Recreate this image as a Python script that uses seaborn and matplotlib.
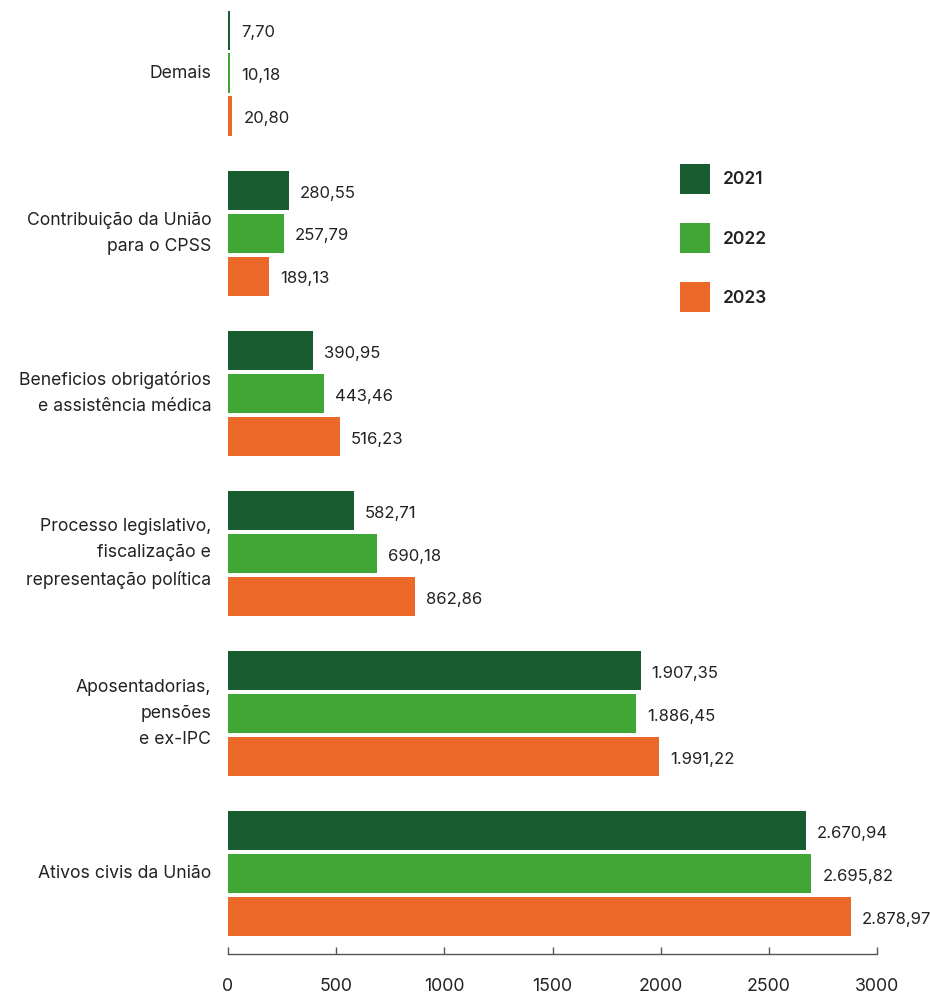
import matplotlib
matplotlib.use("Agg")
import matplotlib.pyplot as plt
import seaborn as sns
import pandas as pd

categories = [
    "Demais",
    "Contribuição da União\npara o CPSS",
    "Beneficios obrigatórios\ne assistência médica",
    "Processo legislativo,\nfiscalização e\nrepresentação política",
    "Aposentadorias,\npensões\ne ex-IPC",
    "Ativos civis da União",
]
years = ["2021", "2022", "2023"]
values_2021 = [7.70, 280.55, 390.95, 582.71, 1907.35, 2670.94]
values_2022 = [10.18, 257.79, 443.46, 690.18, 1886.45, 2695.82]
values_2023 = [20.80, 189.13, 516.23, 862.86, 1991.22, 2878.97]
colors = ["#185c2f", "#40a737", "#ec6829"]
xticks = [0, 500, 1000, 1500, 2000, 2500, 3000]

rows = []
for yr, vals in zip(years, [values_2021, values_2022, values_2023]):
    for c, v in zip(categories, vals):
        rows.append({"cat": c, "year": yr, "value": v})
df = pd.DataFrame(rows)

sns.set_theme(style="white")
plt.rcParams["font.family"] = ["Inter", "DejaVu Sans"]
text_color = "#222222"

fig = plt.figure(figsize=(9.30, 9.94), dpi=100)
ax = fig.add_axes([228 / 930, 40 / 994, 649 / 930, 954 / 994])

sns.barplot(data=df, y="cat", x="value", hue="year", order=categories,
            hue_order=years, palette=colors, orient="h", width=0.805,
            gap=0.09, ax=ax, saturation=1, errorbar=None, linewidth=0)

def fmt(v):
    s = f"{v:,.2f}"
    return s.replace(",", "X").replace(".", ",").replace("X", ".")

for cont in ax.containers:
    txts = ax.bar_label(cont, labels=[fmt(b.get_width()) for b in cont],
                        padding=8, fontsize=12, color=text_color)
    for t in txts:
        t.xyann = (8, -2)

ax.set_xlim(0, 3000)
ax.set_ylim(5.5, -0.456)
ax.set_xticks(xticks)
ax.set_xticklabels([str(t) for t in xticks])
ax.set_xlabel("")
ax.set_ylabel("")
for s in ["left", "top", "right"]:
    ax.spines[s].set_visible(False)
ax.spines["bottom"].set_color("#555555")
ax.spines["bottom"].set_linewidth(1)
ax.tick_params(axis="x", bottom=True, direction="in", length=5, width=1,
               color="#555555", pad=17.5, labelsize=12.8, labelcolor=text_color)
ax.tick_params(axis="y", left=False, length=0, pad=12, labelsize=12.7,
               labelcolor=text_color)
for lbl in ax.get_yticklabels():
    lbl.set_multialignment("right")
    lbl.set_linespacing(1.7)
    lbl.set_verticalalignment("center")

handles, labels = ax.get_legend_handles_labels()
leg = ax.legend(handles, labels, loc="upper left",
                bbox_to_anchor=(680 / 930, 1 - 164 / 994),
                bbox_transform=fig.transFigure, frameon=False,
                borderpad=0, borderaxespad=0, handlelength=1.72,
                handleheight=2.27, labelspacing=1.69, handletextpad=0.75,
                prop={"size": 12.5, "weight": "semibold"})
for t in leg.get_texts():
    t.set_color(text_color)

fig.savefig("out.png", dpi=100)
